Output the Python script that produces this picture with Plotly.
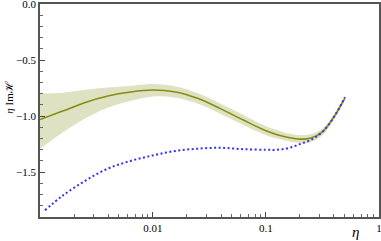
import plotly.graph_objects as go

# log10(eta) grid positions
log_eta = [-3.0, -2.8, -2.6, -2.4, -2.2, -2.0, -1.8, -1.6, -1.4, -1.2,
           -1.0, -0.9, -0.8, -0.7, -0.6, -0.5, -0.4, -0.301]
eta = [10 ** v for v in log_eta]

central = [-1.03, -0.955, -0.878, -0.82, -0.784, -0.766, -0.784, -0.843, -0.935, -1.035,
           -1.13, -1.165, -1.19, -1.205, -1.195, -1.14, -1.01, -0.84]
band_upper = [-0.797, -0.79, -0.765, -0.745, -0.73, -0.714, -0.735, -0.795, -0.89, -0.99,
              -1.09, -1.125, -1.155, -1.17, -1.16, -1.11, -0.985, -0.82]
band_lower = [-1.29, -1.145, -1.02, -0.925, -0.865, -0.825, -0.835, -0.89, -0.98, -1.08,
              -1.17, -1.20, -1.225, -1.24, -1.23, -1.17, -1.035, -0.86]

blue_log_eta = [-2.956, -2.8, -2.6, -2.4, -2.2, -2.0, -1.8, -1.6, -1.4, -1.2,
                -1.0, -0.9, -0.8, -0.7, -0.6, -0.5, -0.4, -0.301]
blue_eta = [10 ** v for v in blue_log_eta]
blue_vals = [-1.84, -1.71, -1.577, -1.468, -1.40, -1.35, -1.31, -1.29, -1.282, -1.295,
             -1.30, -1.30, -1.285, -1.25, -1.21, -1.14, -1.01, -0.83]

x_tickvals = [0.001, 0.01, 0.1, 1]
x_ticktext = ["", "0.01", "0.1", "1"]
x_minor = [m * 10 ** e for e in (-3, -2, -1) for m in range(2, 10)]
y_tickvals = [0.0, -0.5, -1.0, -1.5]
y_ticktext = ["0.0", "\u22120.5", "\u22121.0", "\u22121.5"]

olive = "rgb(135,140,15)"
serif = "Liberation Serif, DejaVu Serif, serif"
fig = go.Figure()
fig.add_trace(go.Scatter(x=eta, y=band_upper, mode="lines", line=dict(width=0, shape="spline"),
                         hoverinfo="skip", showlegend=False))
fig.add_trace(go.Scatter(x=eta, y=band_lower, mode="lines", line=dict(width=0, shape="spline"),
                         fill="tonexty", fillcolor="rgb(222,226,195)",
                         hoverinfo="skip", showlegend=False))
fig.add_trace(go.Scatter(x=eta, y=central, mode="lines",
                         line=dict(color=olive, width=1.6, shape="spline"), showlegend=False))
fig.add_trace(go.Scatter(x=blue_eta, y=blue_vals, mode="lines",
                         line=dict(color="rgb(50,50,245)", width=2, dash="2px,2.5px", shape="spline"),
                         showlegend=False))

axis_font = dict(family=serif, size=11, color="black")
fig.update_layout(
    width=381, height=241,
    margin=dict(l=40, r=2, t=4, b=24),
    paper_bgcolor="white", plot_bgcolor="white",
    font=axis_font,
    xaxis=dict(type="log", range=[-3, 0.0005], tickmode="array", tickvals=x_tickvals, ticktext=x_ticktext,
               ticks="inside", ticklen=5, tickcolor="#444", showgrid=False, zeroline=False,
               showline=True, linecolor="#555", linewidth=1.5, mirror=True, automargin=False,
               ticklabeloverflow="allow",
               minor=dict(tickvals=x_minor, ticks="inside", ticklen=3, tickcolor="#666", showgrid=False),
               tickfont=axis_font),
    yaxis=dict(range=[-1.9, 0.001], tickmode="array", tickvals=y_tickvals, ticktext=y_ticktext,
               ticks="inside", ticklen=5, tickcolor="#444", showgrid=False, zeroline=False,
               showline=True, linecolor="#555", linewidth=1.5, mirror=True, automargin=False,
               ticklabeloverflow="allow",
               minor=dict(dtick=0.1, tick0=0, ticks="inside", ticklen=3, tickcolor="#666", showgrid=False),
               tickfont=axis_font),
    annotations=[
        dict(text="<i>\u03b7</i>", xref="paper", yref="paper", x=0.93, y=0, yshift=-15,
             xanchor="center", yanchor="middle", showarrow=False,
             font=dict(family=serif, size=15, color="black")),
        dict(text="<i>\u03b7</i> Im\u210b", xref="paper", yref="paper", x=0, xshift=-31, y=0.56,
             xanchor="center", yanchor="middle", textangle=-90, showarrow=False,
             font=dict(family=serif, size=11, color="black")),
    ],
)
fig.write_html("out.html", config={"displayModeBar": False},
               post_script="document.body.style.margin='0';document.body.style.overflow='hidden';")
